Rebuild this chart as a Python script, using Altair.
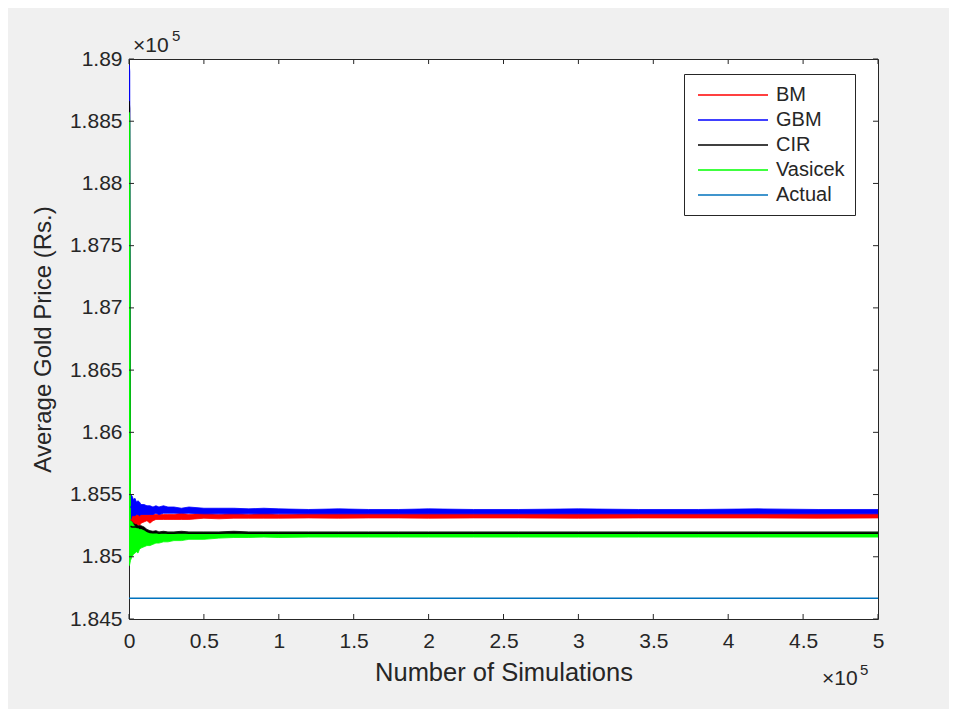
import altair as alt
import pandas as pd

# x in units of 10^5 simulations, y in units of 10^5 Rs.
x_sim = [0, 0.002, 0.005, 0.01, 0.02, 0.03, 0.04, 0.05, 0.06, 0.07, 0.08, 0.10, 0.12, 0.14,
         0.16, 0.18, 0.20, 0.23, 0.26, 0.30, 0.35, 0.40, 0.50, 0.60, 0.70, 0.80, 0.90, 1.00,
         1.20, 1.40, 1.60, 1.80, 2.00, 2.30, 2.60, 3.00, 3.40, 3.80, 4.20, 4.60, 5.00]

bm_lo = [1.8505, 1.8515, 1.8519, 1.8521, 1.8523, 1.8523, 1.8524, 1.8524, 1.8526, 1.8525, 1.8527,
         1.8528, 1.8529, 1.8527, 1.8529, 1.8530, 1.8530, 1.8530, 1.8530, 1.8530, 1.8530, 1.8530,
         1.8531, 1.85305, 1.8531, 1.8531, 1.8531, 1.8531, 1.85312, 1.8531, 1.85312, 1.85312,
         1.8531, 1.85312, 1.85312, 1.8531, 1.85312, 1.85312, 1.85312, 1.8531, 1.85312]
bm_hi = [1.8575, 1.8550, 1.8542, 1.8538, 1.8536, 1.8535, 1.8534, 1.8534, 1.8534, 1.8534, 1.8534,
         1.8534, 1.8534, 1.8534, 1.8534, 1.8534, 1.8534, 1.8534, 1.8534, 1.8534, 1.8535, 1.8534,
         1.8535, 1.8534, 1.8535, 1.8534, 1.8535, 1.8534, 1.85345, 1.85345, 1.85345, 1.85345,
         1.85345, 1.85345, 1.85345, 1.85345, 1.85345, 1.85345, 1.85345, 1.85345, 1.85345]

gbm_lo = [1.8530, 1.8528, 1.8527, 1.8529, 1.8533, 1.8533, 1.8533, 1.8534, 1.8534, 1.8533, 1.8534,
          1.8534, 1.8534, 1.8534, 1.8534, 1.8535, 1.8534, 1.8535, 1.8535, 1.8535, 1.8535, 1.8535,
          1.85345, 1.85345, 1.85345, 1.85345, 1.85345, 1.85345, 1.85345, 1.85345, 1.85345,
          1.85345, 1.85345, 1.85345, 1.85345, 1.85345, 1.85345, 1.85345, 1.85345, 1.85345, 1.85345]
gbm_hi = [1.8895, 1.8895, 1.8890, 1.8550, 1.8549, 1.8546, 1.8547, 1.8544, 1.8545, 1.8544, 1.8542,
          1.8542, 1.8541, 1.8541, 1.8540, 1.8541, 1.8540, 1.8541, 1.8540, 1.8540, 1.8539, 1.8540,
          1.8539, 1.8539, 1.8539, 1.85385, 1.8539, 1.85385, 1.8538, 1.85385, 1.8538, 1.8538,
          1.85385, 1.8538, 1.8538, 1.85385, 1.8538, 1.8538, 1.85385, 1.8538, 1.8538]

cir_lo = [1.8505, 1.8508, 1.8512, 1.8519, 1.8520, 1.8521, 1.8522, 1.8522, 1.8522, 1.8522, 1.8522,
          1.8521, 1.8519, 1.8518, 1.8518, 1.8518, 1.8518, 1.8518, 1.8518, 1.8518, 1.8518, 1.8518,
          1.8518, 1.8518, 1.8518, 1.8518, 1.8518, 1.8518, 1.8518, 1.8518, 1.8518, 1.8518,
          1.8518, 1.8518, 1.8518, 1.8518, 1.8518, 1.8518, 1.8518, 1.8518, 1.8518]
cir_hi = [1.8866, 1.8866, 1.8860, 1.8530, 1.8528, 1.8527, 1.8526, 1.8526, 1.8525, 1.8525, 1.8525,
          1.8524, 1.8522, 1.8521, 1.85205, 1.8521, 1.8520, 1.85205, 1.8520, 1.8520, 1.85205,
          1.8520, 1.8520, 1.8520, 1.85205, 1.8520, 1.8520, 1.8520, 1.8520, 1.8520, 1.8520,
          1.8520, 1.8520, 1.8520, 1.8520, 1.8520, 1.8520, 1.8520, 1.8520, 1.8520, 1.8520]

vas_lo = [1.8493, 1.8493, 1.8494, 1.8497, 1.8500, 1.8502, 1.8503, 1.8504, 1.8503, 1.8506, 1.8507,
          1.8508, 1.8509, 1.8509, 1.8510, 1.8511, 1.8511, 1.8512, 1.8512, 1.8513, 1.8513, 1.8514,
          1.8514, 1.8515, 1.85155, 1.85155, 1.85158, 1.85155, 1.85158, 1.85158, 1.85158, 1.85158,
          1.85158, 1.85158, 1.85158, 1.85158, 1.85158, 1.85158, 1.85158, 1.85158, 1.85158]
vas_hi = [1.8857, 1.8857, 1.8850, 1.8529, 1.8528, 1.8526, 1.8524, 1.8523, 1.8523, 1.8522, 1.8522,
          1.8521, 1.8520, 1.85195, 1.8519, 1.85195, 1.8519, 1.8519, 1.8519, 1.8519, 1.8519, 1.8519,
          1.8519, 1.8519, 1.8519, 1.8519, 1.8519, 1.8519, 1.8519, 1.8519, 1.8519, 1.8519,
          1.8519, 1.8519, 1.8519, 1.8519, 1.8519, 1.8519, 1.8519, 1.8519, 1.8519]

actual_x = [0, 5]
actual_y = [1.84666, 1.84666]

series_names = ["BM", "GBM", "CIR", "Vasicek", "Actual"]
series_colors = ["#ff0000", "#0000ff", "#000000", "#00ff00", "#0072bd"]

x_ticks = [0, 0.5, 1, 1.5, 2, 2.5, 3, 3.5, 4, 4.5, 5]
y_ticks = [1.845, 1.85, 1.855, 1.86, 1.865, 1.87, 1.875, 1.88, 1.885, 1.89]

W, H = 749, 560
FONT = "Liberation Sans"
TXT = "#262626"

bands = {"BM": (bm_lo, bm_hi), "GBM": (gbm_lo, gbm_hi),
         "CIR": (cir_lo, cir_hi), "Vasicek": (vas_lo, vas_hi)}
rows = []
for name, (lo, hi) in bands.items():
    for x, l, h in zip(x_sim, lo, hi):
        rows.append({"series": name, "x": x, "lo": l, "hi": h, "mid": (l + h) / 2})
band_df = pd.DataFrame(rows)

line_rows = [{"series": r["series"], "x": r["x"], "mid": r["mid"]} for r in rows if r["x"] > 0.006]
for x, y in zip(actual_x, actual_y):
    line_rows.append({"series": "Actual", "x": x, "mid": y})
line_df = pd.DataFrame(line_rows)

xscale = alt.Scale(domain=[0, 5], nice=False, zero=False)
yscale = alt.Scale(domain=[1.845, 1.89], nice=False, zero=False)

x_axis = alt.Axis(title="Number of Simulations", values=x_ticks, labelFlush=False,
                  labelExpr="format(datum.value, '.1~f')")
y_axis = alt.Axis(title="Average Gold Price (Rs.)", values=y_ticks, labelFlush=False,
                  labelExpr="format(datum.value, '.3~f')")

layers = []
for name, col in zip(series_names[:4], series_colors[:4]):
    layers.append(
        alt.Chart(band_df).transform_filter(alt.datum.series == name)
        .mark_area(color=col, stroke=col, strokeWidth=0.8, opacity=1, clip=True)
        .encode(x=alt.X("x:Q", scale=xscale, axis=x_axis),
                y=alt.Y("lo:Q", scale=yscale, axis=y_axis),
                y2="hi:Q")
    )

lines = alt.Chart(line_df).mark_line(strokeWidth=1.5, clip=True).encode(
    x=alt.X("x:Q", scale=xscale, axis=x_axis),
    y=alt.Y("mid:Q", scale=yscale, axis=y_axis),
    color=alt.Color("series:N", sort=series_names,
                    scale=alt.Scale(domain=series_names, range=series_colors),
                    legend=alt.Legend(title=None, orient="none", legendX=555, legendY=15,
                                      symbolType="M-0.7,0H6.3", symbolSize=400,
                                      symbolStrokeWidth=1.5, labelFontSize=20,
                                      labelFont=FONT, labelColor=TXT, labelOffset=60,
                                      padding=10, strokeColor=TXT, fillColor="white",
                                      rowPadding=4)),
)
layers.append(lines)

xt_df = pd.DataFrame({"v": x_ticks})
yt_df = pd.DataFrame({"v": y_ticks})
tick_len = 5
layers.append(alt.Chart(xt_df).mark_rule(color=TXT, strokeWidth=1).encode(
    x=alt.X("v:Q", scale=xscale, axis=x_axis), y=alt.value(H), y2=alt.value(H - tick_len)))
layers.append(alt.Chart(xt_df).mark_rule(color=TXT, strokeWidth=1).encode(
    x=alt.X("v:Q", scale=xscale, axis=x_axis), y=alt.value(0), y2=alt.value(tick_len)))
layers.append(alt.Chart(yt_df).mark_rule(color=TXT, strokeWidth=1).encode(
    y=alt.Y("v:Q", scale=yscale, axis=y_axis), x=alt.value(0), x2=alt.value(tick_len)))
layers.append(alt.Chart(yt_df).mark_rule(color=TXT, strokeWidth=1).encode(
    y=alt.Y("v:Q", scale=yscale, axis=y_axis), x=alt.value(W), x2=alt.value(W - tick_len)))

# exponent annotations (x10^5)
def txt(s, x, y, size):
    return alt.Chart(pd.DataFrame({"t": [s]})).mark_text(
        align="left", baseline="alphabetic", font=FONT, fontSize=size, color=TXT
    ).encode(text="t:N", x=alt.value(x), y=alt.value(y))

layers += [txt("×10", 4, -7, 21), txt("5", 43, -18, 15),
           txt("×10", 693, H + 66, 21), txt("5", 731, H + 56, 15)]

chart = alt.layer(*layers).properties(
    width=W, height=H,
    autosize="none",
    padding={"left": 121, "top": 51, "right": 71, "bottom": 90},
    background="#f0f0f0",
).configure_view(
    stroke=TXT, strokeWidth=1, fill="white"
).configure_axis(
    ticks=False, domain=False, grid=False,
    labelFont=FONT, labelFontSize=21, labelColor=TXT, labelPadding=11,
    titleFont=FONT, titleFontSize=24, titleFontWeight="normal", titleColor=TXT,
).configure_axisX(titlePadding=9, titleFontSize=25.5).configure_axisY(titlePadding=14, labelPadding=7)

chart.save("out.html", embed_options={"renderer": "svg", "actions": False})
